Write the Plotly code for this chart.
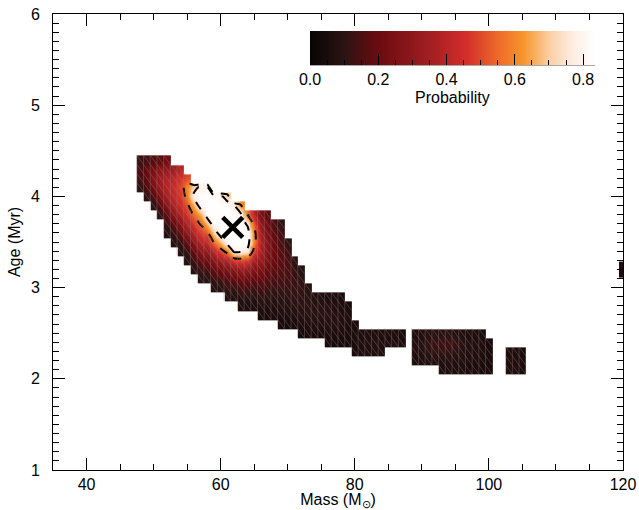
import plotly.graph_objects as go

# ---- data ----
# one column per solar mass: lowest age cell (Myr) and probabilities from bottom to top (age step 0.1 Myr)
col_mass = list(range(48, 88)) + list(range(89, 101)) + [103, 104, 105]
col_age_bottom = [
    4.1, 4.0, 3.9, 3.8, 3.6, 3.5, 3.4, 3.3, 3.2, 3.1, 3.1, 3.0, 3.0, 2.9, 2.9, 2.8, 2.8, 2.8, 2.7, 2.7,
    2.7, 2.6, 2.6, 2.6, 2.5, 2.5, 2.5, 2.5, 2.4, 2.4, 2.4, 2.4, 2.3, 2.3, 2.3, 2.3, 2.3, 2.4, 2.4, 2.4,
    2.2, 2.2, 2.2, 2.2, 2.1, 2.1, 2.1, 2.1, 2.1, 2.1, 2.1, 2.1,
    2.1, 2.1, 2.1,
]
col_prob = [
    [0.10, 0.14, 0.15, 0.12],                                            # 48
    [0.10, 0.16, 0.20, 0.20, 0.14],                                      # 49
    [0.10, 0.17, 0.25, 0.28, 0.25, 0.16],                                # 50
    [0.10, 0.18, 0.27, 0.33, 0.35, 0.30, 0.18],                          # 51
    [0.08, 0.12, 0.20, 0.29, 0.37, 0.40, 0.38, 0.32, 0.22],              # 52
    [0.08, 0.12, 0.20, 0.31, 0.39, 0.43, 0.44, 0.42, 0.34],              # 53
    [0.08, 0.12, 0.20, 0.30, 0.39, 0.45, 0.48, 0.50, 0.47, 0.40],        # 54
    [0.08, 0.12, 0.20, 0.30, 0.40, 0.47, 0.52, 0.58, 0.60, 0.50],        # 55
    [0.08, 0.13, 0.20, 0.30, 0.40, 0.48, 0.56, 0.66, 0.80, 0.72],        # 56
    [0.08, 0.13, 0.20, 0.30, 0.40, 0.48, 0.56, 0.66, 0.83, 0.83, 0.80],  # 57
    [0.09, 0.15, 0.22, 0.32, 0.42, 0.52, 0.68, 0.83, 0.83, 0.83, 0.80],  # 58
    [0.08, 0.13, 0.20, 0.30, 0.42, 0.56, 0.70, 0.83, 0.83, 0.83, 0.83],  # 59
    [0.09, 0.15, 0.23, 0.35, 0.50, 0.68, 0.83, 0.83, 0.83, 0.83, 0.80],  # 60
    [0.07, 0.12, 0.18, 0.27, 0.40, 0.60, 0.83, 0.83, 0.83, 0.83, 0.83, 0.70],  # 61
    [0.07, 0.12, 0.19, 0.30, 0.48, 0.80, 0.83, 0.83, 0.83, 0.83, 0.78],  # 62
    [0.06, 0.10, 0.15, 0.22, 0.33, 0.50, 0.80, 0.83, 0.83, 0.83, 0.80, 0.60],  # 63
    [0.06, 0.10, 0.15, 0.22, 0.32, 0.48, 0.75, 0.83, 0.83, 0.75, 0.55],  # 64
    [0.06, 0.09, 0.13, 0.19, 0.27, 0.36, 0.50, 0.60, 0.60, 0.52, 0.40],  # 65
    [0.05, 0.08, 0.11, 0.15, 0.20, 0.26, 0.32, 0.37, 0.38, 0.35, 0.30, 0.24],  # 66
    [0.05, 0.07, 0.10, 0.13, 0.17, 0.21, 0.25, 0.27, 0.27, 0.25, 0.22, 0.18],  # 67
    [0.05, 0.07, 0.09, 0.12, 0.15, 0.18, 0.20, 0.21, 0.20, 0.18, 0.15],  # 68
    [0.04, 0.06, 0.08, 0.10, 0.13, 0.15, 0.17, 0.18, 0.17, 0.15, 0.13, 0.10],  # 69
    [0.04, 0.06, 0.08, 0.10, 0.12, 0.14, 0.15, 0.15, 0.13, 0.10],        # 70
    [0.05, 0.07, 0.09, 0.11, 0.12, 0.12, 0.11, 0.09],                    # 71
    [0.04, 0.06, 0.08, 0.10, 0.11, 0.11, 0.10, 0.08],                    # 72
    [0.05, 0.07, 0.09, 0.10, 0.10, 0.08],                                # 73
    [0.05, 0.07, 0.09, 0.09, 0.07],                                      # 74
    [0.05, 0.07, 0.09, 0.09, 0.07],                                      # 75
    [0.04, 0.06, 0.08, 0.09, 0.08, 0.06],                                # 76
    [0.04, 0.06, 0.08, 0.08, 0.07, 0.06],                                # 77
    [0.04, 0.06, 0.07, 0.07, 0.06, 0.05],                                # 78
    [0.04, 0.05, 0.06, 0.06, 0.05],                                      # 79
    [0.05, 0.06, 0.06, 0.05],                                            # 80
    [0.06, 0.07, 0.06],                                                  # 81
    [0.06, 0.07, 0.06],                                                  # 82
    [0.06, 0.08, 0.06],                                                  # 83
    [0.06, 0.07, 0.06],                                                  # 84
    [0.07, 0.06],                                                        # 85
    [0.07, 0.06],                                                        # 86
    [0.06, 0.05],                                                        # 87
    [0.06, 0.07, 0.07, 0.06],                                            # 89
    [0.06, 0.08, 0.08, 0.07],                                            # 90
    [0.07, 0.10, 0.11, 0.08],                                            # 91
    [0.07, 0.11, 0.13, 0.09],                                            # 92
    [0.06, 0.07, 0.11, 0.13, 0.09],                                      # 93
    [0.06, 0.07, 0.11, 0.13, 0.09],                                      # 94
    [0.06, 0.07, 0.10, 0.12, 0.08],                                      # 95
    [0.06, 0.07, 0.08, 0.09, 0.07],                                      # 96
    [0.05, 0.06, 0.07, 0.07, 0.06],                                      # 97
    [0.05, 0.06, 0.07, 0.07, 0.06],                                      # 98
    [0.05, 0.06, 0.06, 0.06, 0.05],                                      # 99
    [0.05, 0.05, 0.05, 0.05],                                            # 100
    [0.06, 0.07, 0.06],                                                  # 103
    [0.06, 0.07, 0.06],                                                  # 104
    [0.05, 0.06, 0.05],                                                  # 105
]
# small blob cut by the right axis
edge_mass = [119.6, 120.0]
edge_age = [3.15, 3.24]
edge_prob = [[0.05, 0.05], [0.06, 0.06]]

best_fit_mass = [61.8]
best_fit_age = [3.66]

x_ticks = [40, 60, 80, 100, 120]
y_ticks = [1, 2, 3, 4, 5, 6]
cbar_ticks = [0.0, 0.2, 0.4, 0.6, 0.8]
cbar_ticklabels = ["0.0", "0.2", "0.4", "0.6", "0.8"]
contour_levels = [0.55, 0.77]
zmax = 0.835

# ---- build the grid ----
mass_grid = list(range(48, 106))
age_grid = [round(2.1 + 0.1 * j, 2) for j in range(24)]
z = [[None] * len(mass_grid) for _ in age_grid]
for m, a0, probs in zip(col_mass, col_age_bottom, col_prob):
    i = mass_grid.index(m)
    j0 = int(round((a0 - 2.1) / 0.1))
    for k, p in enumerate(probs):
        z[j0 + k][i] = p
z_lines = [[(v if v is not None else 0.0) for v in row] for row in z]

# faint triangulation mesh over the filled cells (as in the original rendering)
mesh_x, mesh_y = [], []
for m, a0, probs in zip(col_mass, col_age_bottom, col_prob):
    for k, p in enumerate(probs):
        if p < 0.6:
            a = a0 + 0.1 * k
            mesh_x += [m - 0.5, m - 0.5, None, m - 0.5, m + 0.5, None]
            mesh_y += [a - 0.05, a + 0.05, None, a + 0.05, a - 0.05, None]

colorscale = [
    [0.0, "#080404"], [0.12, "#2c1414"], [0.24, "#6a0b0f"], [0.40, "#9b1c20"],
    [0.55, "#d42e2a"], [0.66, "#ee6a2a"], [0.75, "#f7962c"], [0.84, "#fbcfa4"],
    [0.92, "#feece0"], [1.0, "#ffffff"],
]
font = dict(family="Liberation Sans, Arial, sans-serif", size=16, color="black")

cb_pos = dict(orientation="h", x=0.701, xanchor="center", y=0.963, yanchor="top",
              len=0.5, lenmode="fraction", thickness=34, xpad=0, ypad=0, outlinewidth=0)

fig = go.Figure()
fig.add_trace(go.Heatmap(
    x=mass_grid, y=age_grid, z=z, zmin=0, zmax=zmax, zsmooth="best",
    colorscale=colorscale, hoverongaps=False,
    colorbar=dict(**cb_pos, tickvals=cbar_ticks, ticktext=cbar_ticklabels,
                  ticks="inside", ticklen=11, tickcolor="black", tickwidth=1, tickfont=font),
))
# minor ticks for the colour bar (transparent bar)
fig.add_trace(go.Scatter(
    x=[None], y=[None], mode="markers", showlegend=False, hoverinfo="skip",
    marker=dict(color=[0], cmin=0, cmax=zmax,
                colorscale=[[0, "rgba(0,0,0,0)"], [1, "rgba(0,0,0,0)"]], showscale=True,
                colorbar=dict(**cb_pos, tick0=0, dtick=0.05, ticks="inside", ticklen=5,
                              tickcolor="black", showticklabels=False)),
))
fig.add_trace(go.Heatmap(
    x=edge_mass, y=edge_age, z=edge_prob, zmin=0, zmax=zmax, colorscale=colorscale,
    showscale=False,
))
fig.add_trace(go.Scatter(
    x=mesh_x, y=mesh_y, mode="lines", showlegend=False, hoverinfo="skip",
    line=dict(color="rgba(150,130,130,0.45)", width=0.8),
))
fig.add_trace(go.Contour(
    x=mass_grid, y=age_grid, z=z_lines, showscale=False, hoverinfo="skip",
    autocontour=False,
    contours=dict(start=contour_levels[0], end=contour_levels[1],
                  size=contour_levels[1] - contour_levels[0], coloring="none"),
    line=dict(color="black", width=2, dash="dash", smoothing=0.6),
))
fig.add_trace(go.Scatter(
    x=best_fit_mass, y=best_fit_age, mode="markers", showlegend=False,
    marker=dict(symbol="x-thin", size=20, line=dict(color="black", width=4.5)),
))

fig.add_shape(type="line", xref="paper", yref="paper", x0=0.451, x1=0.951, y0=0.8885, y1=0.8885,
              line=dict(color="black", width=1))
fig.add_annotation(text="Probability", xref="paper", yref="paper", x=0.701, y=0.816,
                   showarrow=False, font=font, xanchor="center", yanchor="middle")

axis_common = dict(showline=True, linecolor="black", linewidth=1, mirror="ticks",
                   ticks="inside", ticklen=12, tickcolor="black", tickwidth=1,
                   showgrid=False, zeroline=False, tickfont=font)
fig.update_xaxes(range=[35, 120], tickvals=x_ticks,
                 minor=dict(dtick=5, tick0=35, ticks="inside", ticklen=6, tickcolor="black"),
                 title=dict(text="Mass (M<sub>⊙</sub>)", font=font, standoff=3),
                 **axis_common)
fig.update_yaxes(range=[1, 6], tickvals=y_ticks, ticklabelstandoff=9,
                 minor=dict(dtick=0.1, tick0=1, ticks="inside", ticklen=6, tickcolor="black"),
                 title=dict(text="Age (Myr)", font=font, standoff=6),
                 **axis_common)
fig.update_layout(
    width=639, height=510, margin=dict(l=53, r=16, t=14, b=40, autoexpand=False),
    paper_bgcolor="white", plot_bgcolor="white", showlegend=False, font=font,
)
fig.write_html("out.html", config={"displayModeBar": False},
               post_script="document.body.style.margin='0';")
